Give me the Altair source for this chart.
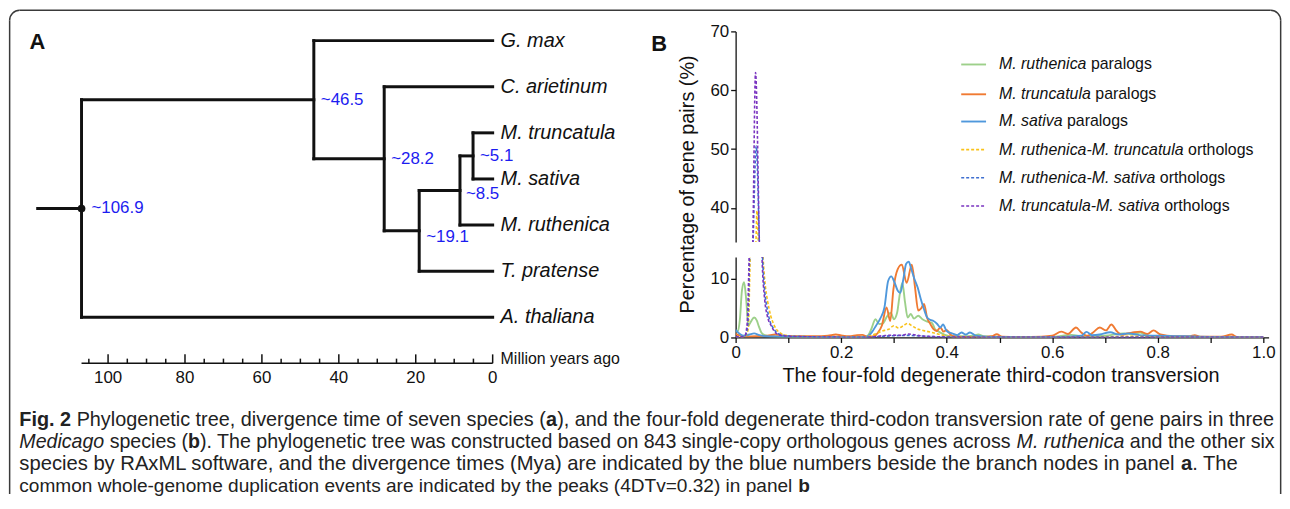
import altair as alt
import pandas as pd

SANS = "Liberation Sans, Arial, Helvetica, sans-serif"
INK = "#111111"
BLUE_TXT = "#1c1cf0"

# ---------------- Panel A data ----------------
SPECIES = ["G. max", "C. arietinum", "M. truncatula", "M. sativa", "M. ruthenica", "T. pratense", "A. thaliana"]
NODE_NAMES = ["root", "n46", "n28", "n19", "n8", "n5"]
NODE_AGES = [106.9, 46.5, 28.2, 19.1, 8.5, 5.1]
NODE_LABELS = ["~106.9", "~46.5", "~28.2", "~19.1", "~8.5", "~5.1"]
NODE_CHILDREN = [["n46", "A. thaliana"], ["G. max", "n28"], ["C. arietinum", "n19"],
                 ["n8", "T. pratense"], ["n5", "M. ruthenica"], ["M. truncatula", "M. sativa"]]
ROOT_STUB_AGE = 118.3
TIME_TICKS = list(range(0, 110, 5))
TIME_LABELS = [0, 20, 40, 60, 80, 100]

# ---------------- Panel B data ----------------
SERIES_NAMES = ["M. ruthenica paralogs", "M. truncatula paralogs", "M. sativa paralogs",
                "M. ruthenica-M. truncatula orthologs", "M. ruthenica-M. sativa orthologs",
                "M. truncatula-M. sativa orthologs"]
LEGEND_ITALIC = ["M. ruthenica", "M. truncatula", "M. sativa", "M. ruthenica-M. truncatula",
                 "M. ruthenica-M. sativa", "M. truncatula-M. sativa"]
LEGEND_PLAIN = ["paralogs", "paralogs", "paralogs", "orthologs", "orthologs", "orthologs"]
COLORS = ["#9dd08a", "#f07a32", "#4f98dc", "#f9c21a", "#3e6fd0", "#7a34c0"]
DASHED = [False, False, False, True, True, True]

GREEN_X = [0, 0.004, 0.008, 0.012, 0.016, 0.020, 0.024, 0.029, 0.035, 0.040, 0.044, 0.049, 0.055, 0.062, 0.075,
           0.10, 0.15, 0.20, 0.24, 0.250, 0.257, 0.265, 0.272, 0.279, 0.287, 0.294, 0.300, 0.306, 0.311, 0.316,
           0.321, 0.326, 0.332, 0.338, 0.346, 0.354, 0.363, 0.372, 0.378, 0.385, 0.391, 0.398, 0.41, 0.43, 0.45,
           0.46, 0.47, 0.50, 0.56, 0.60, 0.636, 0.66, 0.70, 0.736, 0.752, 0.767, 0.78, 0.80, 0.86, 0.92, 1.0]
GREEN_Y = [1.0, 1.1, 3.0, 8.0, 9.4, 6.5, 2.0, 2.7, 3.4, 2.9, 1.9, 0.8, 0.4, 0.25, 0.15,
           0.1, 0.05, 0.05, 0.05, 0.3, 1.4, 3.1, 2.3, 2.4, 3.6, 4.2, 3.1, 4.2, 7.3, 9.3,
           6.0, 3.4, 4.0, 3.2, 3.7, 3.1, 2.7, 2.5, 1.4, 1.0, 0.7, 0.4, 0.2, 0.2, 0.3,
           0.5, 0.2, 0.1, 0.05, 0.1, 0.45, 0.2, 0.3, 0.7, 0.5, 0.85, 0.3, 0.1, 0.05, 0.05, 0.0]

ORANGE_X = [0, 0.008, 0.02, 0.04, 0.06, 0.075, 0.09, 0.11, 0.15, 0.175, 0.19, 0.20, 0.215, 0.23, 0.24, 0.25,
            0.262, 0.270, 0.277, 0.286, 0.293, 0.299, 0.307, 0.315, 0.324, 0.334, 0.340, 0.346, 0.352, 0.357,
            0.363, 0.369, 0.375, 0.381, 0.388, 0.394, 0.400, 0.406, 0.412, 0.43, 0.47, 0.485, 0.495, 0.505,
            0.54, 0.58, 0.60, 0.617, 0.630, 0.645, 0.655, 0.667, 0.678, 0.690, 0.702, 0.712, 0.722, 0.732,
            0.742, 0.752, 0.767, 0.780, 0.792, 0.805, 0.83, 0.86, 0.870, 0.88, 0.92, 0.940, 0.95, 1.0]
ORANGE_Y = [0.6, 0.3, 0.15, 0.2, 0.3, 0.5, 0.3, 0.2, 0.2, 0.3, 0.5, 0.35, 0.2, 0.4, 0.45, 0.1,
            0.2, 0.85, 2.0, 5.1, 2.8, 8.2, 11.6, 12.4, 9.3, 12.4, 8.5, 4.6, 5.0, 5.7,
            3.3, 2.3, 1.4, 1.1, 1.7, 1.0, 1.3, 0.6, 0.2, 0.1, 0.1, 0.2, 0.55, 0.15,
            0.1, 0.15, 0.3, 1.0, 0.6, 1.7, 0.85, 0.3, 0.9, 1.7, 1.2, 2.2, 1.1, 0.45,
            0.7, 0.85, 1.0, 0.6, 1.2, 0.5, 0.2, 0.2, 0.4, 0.15, 0.15, 0.5, 0.1, 0.05]

BLUE_X = [0, 0.008, 0.016, 0.026, 0.035, 0.045, 0.06, 0.08, 0.12, 0.2, 0.245, 0.252, 0.259, 0.266, 0.274,
          0.282, 0.289, 0.295, 0.301, 0.307, 0.312, 0.318, 0.323, 0.328, 0.333, 0.339, 0.345, 0.351, 0.357,
          0.363, 0.369, 0.375, 0.382, 0.388, 0.393, 0.400, 0.41, 0.42, 0.428, 0.436, 0.444, 0.455, 0.48,
          0.55, 0.62, 0.655, 0.665, 0.675, 0.69, 0.71, 0.725, 0.745, 0.765, 0.80, 0.85, 0.90, 1.0]
BLUE_Y = [1.3, 0.6, 0.3, 0.5, 0.7, 0.4, 0.2, 0.15, 0.1, 0.05, 0.05, 0.3, 1.0, 2.0, 3.2,
          5.1, 9.6, 10.4, 9.4, 8.0, 7.6, 10.0, 12.5, 12.9, 11.6, 9.9, 8.5, 6.5, 4.8,
          3.4, 3.0, 2.8, 2.3, 1.7, 2.2, 1.1, 0.7, 0.4, 0.85, 0.5, 0.85, 0.3, 0.1,
          0.05, 0.1, 0.3, 0.95, 0.4, 0.5, 0.9, 0.5, 0.7, 0.4, 0.3, 0.2, 0.1, 0.05]

YELLOW_X = [0, 0.01, 0.018, 0.024, 0.0276, 0.033, 0.0385, 0.0405, 0.043, 0.047, 0.052, 0.056, 0.060, 0.0665,
            0.074, 0.083, 0.099, 0.13, 0.18, 0.24, 0.259, 0.278, 0.29, 0.300, 0.309, 0.318, 0.326, 0.334,
            0.341, 0.35, 0.36, 0.372, 0.385, 0.397, 0.42, 0.5, 0.7, 0.75, 0.8, 1.0]
YELLOW_Y = [0.1, 0.1, 0.2, 1.5, 13.7, 24, 34, 39.5, 34, 24, 13.7, 9.0, 6.5, 3.7,
            1.9, 0.85, 0.3, 0.15, 0.1, 0.05, 0.4, 1.1, 1.4, 2.0, 1.6, 2.0, 2.4, 2.0,
            1.6, 1.3, 1.1, 0.85, 0.55, 0.3, 0.1, 0.05, 0.1, 0.2, 0.1, 0.05]

DBLUE_X = [0, 0.01, 0.018, 0.023, 0.0265, 0.033, 0.039, 0.045, 0.051, 0.055, 0.060, 0.065, 0.072, 0.080,
           0.095, 0.13, 0.2, 0.25, 0.28, 0.30, 0.325, 0.35, 0.39, 0.45, 1.0]
DBLUE_Y = [0.1, 0.1, 0.3, 2.0, 13.7, 34, 50.5, 34, 13.7, 8.0, 4.8, 2.8, 1.5, 0.7,
           0.3, 0.15, 0.05, 0.05, 0.2, 0.3, 0.35, 0.25, 0.1, 0.05, 0.05]

PURPLE_X = [0, 0.01, 0.0176, 0.022, 0.0257, 0.0326, 0.0377, 0.045, 0.050, 0.055, 0.060, 0.068, 0.077, 0.09,
            0.12, 0.2, 0.25, 0.28, 0.30, 0.315, 0.325, 0.335, 0.35, 0.39, 0.45, 1.0]
PURPLE_Y = [0.1, 0.1, 0.3, 2.5, 13.7, 34, 63, 34, 13.7, 6.5, 3.7, 1.9, 0.7, 0.3,
            0.15, 0.05, 0.05, 0.3, 0.4, 0.35, 0.6, 0.5, 0.3, 0.1, 0.05, 0.05]

CURVES = [(GREEN_X, GREEN_Y), (ORANGE_X, ORANGE_Y), (BLUE_X, BLUE_Y),
          (YELLOW_X, YELLOW_Y), (DBLUE_X, DBLUE_Y), (PURPLE_X, PURPLE_Y)]

UPPER_TICKS = [40, 50, 60, 70]
LOWER_TICKS = [0, 10]
X_TICKS = [round(0.1 * i, 1) for i in range(11)]

# ---------------- Caption ----------------
CAPTION_LINES = [
    [("Fig. 2", "b"), (" Phylogenetic tree, divergence time of seven species (", "r"), ("a", "b"),
     ("), and the four-fold degenerate third-codon transversion rate of gene pairs in three", "r")],
    [("Medicago", "i"), (" species (", "r"), ("b", "b"),
     ("). The phylogenetic tree was constructed based on 843 single-copy orthologous genes across ", "r"),
     ("M. ruthenica", "i"), (" and the other six", "r")],
    [("species by RAxML software, and the divergence times (Mya) are indicated by the blue numbers beside the branch nodes in panel ", "r"),
     ("a", "b"), (". The", "r")],
    [("common whole-genome duplication events are indicated by the peaks (4DTv=0.32) in panel ", "r"), ("b", "b")],
]

# ---------------- font metrics (Arial / Liberation Sans, per 1000 em) ----------------
_REG = dict(zip(" !\"#$%&'()*+,-./0123456789:;<=>?@",
                [278, 278, 355, 556, 556, 889, 667, 191, 333, 333, 389, 584, 278, 333, 278, 278] + [556] * 10 +
                [278, 278, 584, 584, 584, 556, 1015]))
_REG.update(dict(zip("ABCDEFGHIJKLMNOPQRSTUVWXYZ",
                     [667, 667, 722, 722, 667, 611, 778, 722, 278, 500, 667, 556, 833, 722, 778, 667, 778, 722, 667,
                      611, 722, 667, 944, 667, 667, 611])))
_REG.update(dict(zip("abcdefghijklmnopqrstuvwxyz",
                     [556, 556, 500, 556, 556, 278, 556, 556, 222, 222, 500, 222, 833, 556, 556, 556, 556, 333, 500,
                      278, 556, 500, 722, 500, 500, 500])))
_REG.update({"~": 584, "[": 278, "]": 278, "_": 556})
_BOLD = dict(_REG)
_BOLD.update(dict(zip("ABCDEFGHIJKLMNOPQRSTUVWXYZ",
                      [722, 722, 722, 722, 667, 611, 778, 722, 278, 556, 722, 611, 833, 722, 778, 667, 778, 722, 667,
                       611, 722, 667, 944, 667, 667, 611])))
_BOLD.update(dict(zip("abcdefghijklmnopqrstuvwxyz",
                      [556, 611, 556, 611, 556, 333, 611, 611, 278, 278, 556, 278, 889, 611, 611, 611, 611, 389, 556,
                       333, 611, 556, 778, 556, 556, 500])))
_BOLD.update({"!": 333, ":": 333, ";": 333, "?": 611})


def text_width(s, size, bold=False):
    t = _BOLD if bold else _REG
    return sum(t.get(c, 556) for c in s) * size / 1000.0


# ---------------- layout (page pixels) ----------------
PX_PER_MY = 3.87
A_LEFT, A_TOP = 81.1, 30.0
A_W = 106.9 * PX_PER_MY
B_LEFT, B_TOP = 739.0, 30.0
B_W = 1.01 * 531.0
UP_H, GAP, LO_H = 212.0, 15.0, 81.0
ROW_H = UP_H + GAP + LO_H
LO_TOP = B_TOP + UP_H + GAP
ax = lambda v: v - A_LEFT   # page x -> tree-panel pixel
ay = lambda v: v - A_TOP    # page y -> tree-panel pixel

# ---------------- Panel A chart ----------------
ypos = {s: float(i) for i, s in enumerate(SPECIES)}
age = {s: 0.0 for s in SPECIES}
children = dict(zip(NODE_NAMES, NODE_CHILDREN))
for n, a in zip(NODE_NAMES, NODE_AGES):
    age[n] = a


def node_y(n):
    if n not in ypos:
        ypos[n] = sum(node_y(c) for c in children[n]) / len(children[n])
    return ypos[n]


node_y("root")
rows = [dict(a1=ROOT_STUB_AGE, a2=age["root"], y1=ypos["root"], y2=ypos["root"])]
for n in NODE_NAMES:
    cy = [ypos[c] for c in children[n]]
    rows.append(dict(a1=age[n], a2=age[n], y1=min(cy), y2=max(cy)))
    for c in children[n]:
        rows.append(dict(a1=age[n], a2=age[c], y1=ypos[c], y2=ypos[c]))
branch_df = pd.DataFrame(rows)

unit = 46.4
y_top_dom = -(39.3 - A_TOP) / unit
y_bot_dom = 6 + (A_TOP + ROW_H - 317.7) / unit
XA = alt.Scale(domain=[0, 106.9], reverse=True, nice=False, zero=False)
YA = alt.Scale(domain=[y_top_dom, y_bot_dom], reverse=True, nice=False, zero=False)

branches = alt.Chart(branch_df).mark_rule(color=INK, strokeWidth=3, strokeCap="square").encode(
    x=alt.X("a1:Q", scale=XA, axis=None), x2="a2:Q",
    y=alt.Y("y1:Q", scale=YA, axis=None), y2="y2:Q")

root_df = pd.DataFrame({"a": [age["root"]], "y": [ypos["root"]]})
root_dot = alt.Chart(root_df).mark_point(filled=True, size=60, color=INK, opacity=1).encode(
    x=alt.X("a:Q", scale=XA, axis=None), y=alt.Y("y:Q", scale=YA, axis=None))

tips_df = pd.DataFrame({"a": [0.0] * len(SPECIES), "y": [ypos[s] for s in SPECIES], "name": SPECIES})
tip_labels = alt.Chart(tips_df).mark_text(align="left", baseline="middle", dx=8, font=SANS, fontSize=20,
                                          fontStyle="italic", color=INK).encode(
    x=alt.X("a:Q", scale=XA, axis=None), y=alt.Y("y:Q", scale=YA, axis=None), text="name:N")

NODE_DX = [10, 7, 7, 7, 6, 7]
NODE_DY = [0, 0, 0, 6, 3.5, 0]
node_layers = []
for n, lab, dx, dy in zip(NODE_NAMES, NODE_LABELS, NODE_DX, NODE_DY):
    df = pd.DataFrame({"a": [age[n]], "y": [ypos[n]], "t": [lab]})
    node_layers.append(alt.Chart(df).mark_text(align="left", baseline="middle", dx=dx, dy=dy, font=SANS,
                                               fontSize=17, color=BLUE_TXT).encode(
        x=alt.X("a:Q", scale=XA, axis=None), y=alt.Y("y:Q", scale=YA, axis=None), text="t:N"))

AX_LINE_Y = ay(364.0)
ticks_df = pd.DataFrame({"t": TIME_TICKS, "major": [t in TIME_LABELS for t in TIME_TICKS]})
major_ticks = alt.Chart(ticks_df).transform_filter("datum.major").mark_rule(color=INK, strokeWidth=1.5).encode(
    x=alt.X("t:Q", scale=XA, axis=None), y=alt.value(ay(355.0)), y2=alt.value(AX_LINE_Y))
minor_ticks = alt.Chart(ticks_df).transform_filter("!datum.major").mark_rule(color=INK, strokeWidth=1.5).encode(
    x=alt.X("t:Q", scale=XA, axis=None), y=alt.value(ay(359.3)), y2=alt.value(AX_LINE_Y))
axline_df = pd.DataFrame({"a1": [age["root"]], "a2": [0.0]})
axis_line = alt.Chart(axline_df).mark_rule(color=INK, strokeWidth=1.6).encode(
    x=alt.X("a1:Q", scale=XA, axis=None), x2="a2:Q", y=alt.value(AX_LINE_Y))
tl_df = pd.DataFrame({"t": TIME_LABELS, "s": [str(t) for t in TIME_LABELS]})
tick_labels = alt.Chart(tl_df).mark_text(baseline="middle", align="center", font=SANS, fontSize=17,
                                         color=INK).encode(
    x=alt.X("t:Q", scale=XA, axis=None), y=alt.value(ay(379.0)), text="s:N")
mya_df = pd.DataFrame({"a": [0.0], "t": ["Million years ago"]})
mya = alt.Chart(mya_df).mark_text(align="left", baseline="middle", dx=8, font=SANS, fontSize=16,
                                  color=INK).encode(
    x=alt.X("a:Q", scale=XA, axis=None), y=alt.value(ay(359.3)), text="t:N")
one = pd.DataFrame({"k": [0]})
a_label = alt.Chart(pd.DataFrame({"t": ["A"]})).mark_text(align="center", baseline="middle", font=SANS,
                                                          fontSize=22, fontWeight="bold", color=INK).encode(
    x=alt.value(ax(36.7)), y=alt.value(ay(41.0)), text="t:N")

# ---------------- caption + frame (drawn in the panel-A view, outside its plot area) ----------------
CAP_X0 = 18.5
CAP_ENDS = [1281.7, 1281.7, 1245.0, 814.0]
CAP_Y = [421.5, 443.5, 465.5, 487.0]
cap_rows = []
for li, runs in enumerate(CAPTION_LINES):
    em = sum(text_width(t, 1.0, s == "b") for t, s in runs)
    size = (CAP_ENDS[li] - CAP_X0) / em
    x = CAP_X0
    for t, s in runs:
        lead = len(t) - len(t.lstrip(" "))
        trail = len(t) - len(t.rstrip(" "))
        body = t.strip(" ")
        x += text_width(" " * lead, size, s == "b")
        cap_rows.append(dict(px=ax(x), py=ay(CAP_Y[li]), t=body, s=s, fs=size))
        x += text_width(body, size, s == "b")
        x += text_width(" " * trail, size, s == "b")
cap_df = pd.DataFrame(cap_rows)
cap_layers = []
for style, extra in [("r", {}), ("b", {"fontWeight": "bold"}), ("i", {"fontStyle": "italic"})]:
    cap_layers.append(alt.Chart(cap_df).transform_filter(f"datum.s == '{style}'").mark_text(
        align="left", baseline="middle", font=SANS, color="#222222", **extra).encode(
        x=alt.X("px:Q", scale=None, axis=None), y=alt.Y("py:Q", scale=None, axis=None), text="t:N",
        size=alt.Size("fs:Q", scale=None, legend=None)))

# frame: thin filled bars + filled quarter rings (exact bounds, no stroke expansion)
FR_L, FR_R, FR_T, FR_B, FR_W, FR_RAD = 8.0, 1288.5, 8.0, 495.5, 1.5, 10.75
FRAME = "#3a3a3a"
frame_layers = [
    alt.Chart(one).mark_rect(color=FRAME).encode(
        x=alt.value(ax(FR_L)), x2=alt.value(ax(FR_L + FR_W)),
        y=alt.value(ay(FR_T + FR_RAD)), y2=alt.value(ay(FR_B))),
    alt.Chart(one).mark_rect(color=FRAME).encode(
        x=alt.value(ax(FR_R - FR_W)), x2=alt.value(ax(FR_R)),
        y=alt.value(ay(FR_T + FR_RAD)), y2=alt.value(ay(FR_B))),
    alt.Chart(one).mark_rect(color=FRAME).encode(
        x=alt.value(ax(FR_L + FR_RAD)), x2=alt.value(ax(FR_R - FR_RAD)),
        y=alt.value(ay(FR_T)), y2=alt.value(ay(FR_T + FR_W))),
    alt.Chart(one).mark_arc(color=FRAME, radius=FR_RAD, radius2=FR_RAD - FR_W,
                            theta=4.712389, theta2=6.283185).encode(
        x=alt.value(ax(FR_L + FR_RAD)), y=alt.value(ay(FR_T + FR_RAD))),
    alt.Chart(one).mark_arc(color=FRAME, radius=FR_RAD, radius2=FR_RAD - FR_W,
                            theta=0.0, theta2=1.570796).encode(
        x=alt.value(ax(FR_R - FR_RAD)), y=alt.value(ay(FR_T + FR_RAD))),
]

tree = alt.layer(branches, root_dot, tip_labels, *node_layers, axis_line, major_ticks, minor_ticks,
                 tick_labels, mya, a_label, *cap_layers, *frame_layers).properties(width=A_W, height=ROW_H)

# ---------------- Panel B charts ----------------
XB = alt.Scale(domain=[0, 1.01], nice=False, zero=False)
YU = alt.Scale(domain=[34.2, 70], nice=False, zero=False)
YL = alt.Scale(domain=[0, 13.7], nice=False, zero=False)
AXS = dict(domainColor=INK, tickColor=INK, labelColor=INK, labelFont=SANS, labelFontSize=17, domainWidth=1.3,
           tickWidth=1.3, tickSize=5, labelPadding=2, grid=False, title=None, labelOverlap=False)
Y_AX_UP = alt.Axis(values=UPPER_TICKS, **AXS)
Y_AX_LO = alt.Axis(values=LOWER_TICKS, **AXS)
X_AX_LO = alt.Axis(values=X_TICKS, labelFlush=False,
                   labelExpr="datum.value == 0 ? '0' : (round(datum.value * 10) % 2 == 0 ? format(datum.value, '.1f') : '')",
                   **AXS)


def curve_layers(yscale, yaxis, xaxis):
    out = []
    for i, (xs, ys) in enumerate(CURVES):
        df = pd.DataFrame({"x": xs, "y": ys})
        kw = dict(color=COLORS[i], strokeWidth=1.6 if DASHED[i] else 1.9, clip=True, interpolate="monotone")
        if DASHED[i]:
            kw["strokeDash"] = [3, 2]
        out.append(alt.Chart(df).mark_line(**kw).encode(
            x=alt.X("x:Q", scale=XB, axis=xaxis),
            y=alt.Y("y:Q", scale=yscale, axis=yaxis)))
    return out


bx = lambda v: v - B_LEFT
by = lambda v: v - B_TOP
LEG_Y = [63.3, 93.3, 120.7, 149.0, 177.3, 205.7]
LEG_X1, LEG_X2, LEG_TX = 966.0, 991.0, 1004.0
LEG_SIZE = 16
legend_layers = []
for i in range(6):
    kw = dict(color=COLORS[i], strokeWidth=1.6 if DASHED[i] else 1.9)
    if DASHED[i]:
        kw["strokeDash"] = [3, 2]
    legend_layers.append(alt.Chart(one).mark_rule(**kw).encode(
        x=alt.value(bx(LEG_X1)), x2=alt.value(bx(LEG_X2)), y=alt.value(by(LEG_Y[i]))))
leg_df = pd.DataFrame({
    "ly": [by(y) for y in LEG_Y],
    "ix": [bx(LEG_TX)] * 6,
    "px": [bx(LEG_TX) + text_width(s + " ", LEG_SIZE) for s in LEGEND_ITALIC],
    "it": LEGEND_ITALIC, "pl": LEGEND_PLAIN})
leg_it = alt.Chart(leg_df).mark_text(align="left", baseline="middle", font=SANS, fontSize=LEG_SIZE,
                                     fontStyle="italic", color=INK).encode(
    x=alt.X("ix:Q", scale=None, axis=None), y=alt.Y("ly:Q", scale=None, axis=None), text="it:N")
leg_pl = alt.Chart(leg_df).mark_text(align="left", baseline="middle", font=SANS, fontSize=LEG_SIZE,
                                     color=INK).encode(
    x=alt.X("px:Q", scale=None, axis=None), y=alt.Y("ly:Q", scale=None, axis=None), text="pl:N")
b_label = alt.Chart(pd.DataFrame({"t": ["B"]})).mark_text(align="center", baseline="middle", font=SANS,
                                                          fontSize=22, fontWeight="bold", color=INK).encode(
    x=alt.value(bx(662.0)), y=alt.value(by(42.5)), text="t:N")
y_title = alt.Chart(pd.DataFrame({"t": ["Percentage of gene pairs (%)"]})).mark_text(
    align="center", baseline="middle", angle=270, font=SANS, fontSize=20, color=INK).encode(
    x=alt.value(bx(691.2)), y=alt.value(by(184.0)), text="t:N")

upper = alt.layer(*curve_layers(YU, Y_AX_UP, None), *legend_layers, leg_it, leg_pl, b_label,
                  y_title).properties(width=B_W, height=UP_H)

x_title = alt.Chart(pd.DataFrame({"t": ["The four-fold degenerate third-codon transversion"]})).mark_text(
    align="center", baseline="middle", font=SANS, fontSize=20, color=INK).encode(
    x=alt.value(bx(1006.0)), y=alt.value(376.7 - LO_TOP), text="t:N")
lower = alt.layer(*curve_layers(YL, Y_AX_LO, X_AX_LO), x_title).properties(width=B_W, height=LO_H)

panel_b = alt.vconcat(upper, lower, spacing=GAP, bounds="flush").resolve_scale(x="independent", y="independent")

chart = alt.hconcat(tree, panel_b, spacing=B_LEFT - (A_LEFT + A_W), bounds="flush").resolve_scale(
    x="independent", y="independent").properties(
    padding={"left": 0, "top": 0, "right": 0, "bottom": 0}, background="white"
).configure_view(stroke=None)

chart.save("out.html", embed_options={"renderer": "svg", "actions": False})
